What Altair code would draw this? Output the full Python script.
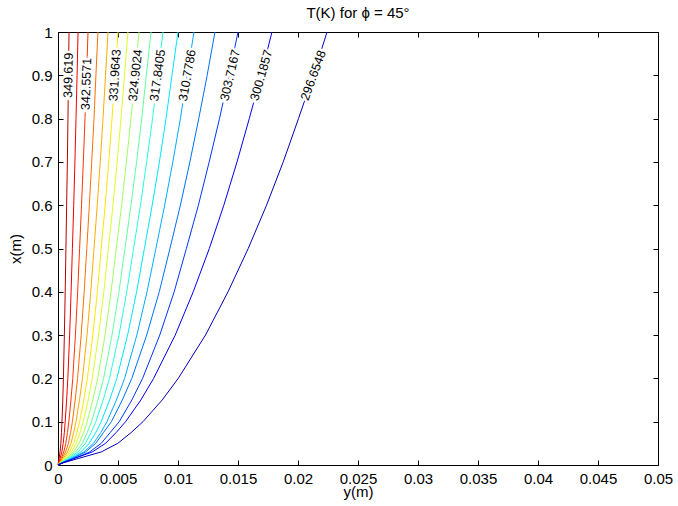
import altair as alt
import pandas as pd

# ---------------- data ----------------
# contour levels (K), innermost (hottest) first
levels = [349.619, 346.0881, 342.5571, 339.0262, 335.4952, 331.9643, 328.4333, 324.9024,
          321.3714, 317.8405, 314.3095, 310.7786, 307.2476, 303.7167, 300.1857, 296.6548]

# x (m) positions along the plate (vertical axis) at which each contour was read
x_pts = [0, 0.005, 0.015, 0.03, 0.05, 0.075, 0.1, 0.15, 0.2, 0.3, 0.4, 0.5, 0.6, 0.7, 0.8, 0.9, 1.0]

# y (mm) of each contour at those x positions (horizontal axis)
c01 = [0, 0.03, 0.09, 0.17, 0.24, 0.29, 0.33, 0.40, 0.45, 0.53, 0.60, 0.66, 0.72, 0.78, 0.83, 0.87, 0.92]
c02 = [0, 0.05, 0.17, 0.32, 0.43, 0.53, 0.60, 0.72, 0.82, 0.97, 1.09, 1.20, 1.31, 1.41, 1.50, 1.59, 1.67]
c03 = [0, 0.08, 0.25, 0.48, 0.65, 0.79, 0.90, 1.08, 1.23, 1.45, 1.64, 1.80, 1.96, 2.11, 2.25, 2.38, 2.50]
c04 = [0, 0.10, 0.33, 0.63, 0.87, 1.05, 1.20, 1.43, 1.63, 1.93, 2.18, 2.40, 2.61, 2.81, 3.00, 3.16, 3.33]
c05 = [0, 0.13, 0.42, 0.79, 1.08, 1.31, 1.50, 1.79, 2.04, 2.42, 2.73, 3.00, 3.27, 3.52, 3.75, 3.96, 4.17]
c06 = [0, 0.15, 0.50, 0.95, 1.30, 1.58, 1.80, 2.15, 2.45, 2.90, 3.28, 3.60, 3.93, 4.23, 4.50, 4.75, 5.00]
c07 = [0, 0.17, 0.58, 1.11, 1.52, 1.84, 2.10, 2.51, 2.86, 3.38, 3.82, 4.20, 4.58, 4.93, 5.25, 5.54, 5.83]
c08 = [0, 0.20, 0.68, 1.28, 1.76, 2.13, 2.43, 2.90, 3.31, 3.92, 4.42, 4.86, 5.30, 5.70, 6.08, 6.41, 6.75]
c09 = [0, 0.23, 0.78, 1.47, 2.02, 2.44, 2.79, 3.33, 3.80, 4.50, 5.08, 5.58, 6.08, 6.55, 6.98, 7.36, 7.75]
c10 = [0, 0.26, 0.88, 1.66, 2.28, 2.76, 3.15, 3.76, 4.29, 5.08, 5.73, 6.30, 6.87, 7.39, 7.88, 8.31, 8.75]
c11 = [0, 0.30, 1.00, 1.90, 2.60, 3.15, 3.60, 4.30, 4.90, 5.80, 6.55, 7.20, 7.85, 8.45, 9.00, 9.50, 10.00]
c12 = [0, 0.34, 1.13, 2.15, 2.95, 3.57, 4.08, 4.87, 5.55, 6.57, 7.42, 8.16, 8.89, 9.57, 10.20, 10.76, 11.33]
c13 = [0, 0.33, 1.18, 2.29, 3.14, 3.79, 4.45, 5.36, 6.15, 7.39, 8.44, 9.33, 10.20, 10.99, 11.73, 12.43, 13.08]
c14 = [0, 0.38, 1.35, 2.63, 3.60, 4.35, 5.10, 6.15, 7.05, 8.48, 9.68, 10.70, 11.70, 12.60, 13.46, 14.25, 15.00]
c15 = [0, 0.36, 1.34, 2.85, 3.96, 4.85, 5.63, 6.90, 7.97, 9.77, 11.27, 12.61, 13.82, 14.92, 15.94, 16.92, 17.83]
c16 = [0, 0.45, 1.68, 3.59, 4.98, 6.10, 7.08, 8.68, 10.02, 12.29, 14.17, 15.85, 17.38, 18.77, 20.04, 21.28, 22.42]
contours = [c01, c02, c03, c04, c05, c06, c07, c08, c09, c10, c11, c12, c13, c14, c15, c16]

# contour labels (text, x position along plate, y position in mm)
label_text = ["349.619", "342.5571", "331.9643", "324.9024", "317.8405",
              "310.7786", "303.7167", "300.1857", "296.6548"]
label_x = [0.90, 0.88, 0.90, 0.90, 0.90, 0.90, 0.90, 0.90, 0.90]
label_y_mm = [0.87, 2.36, 4.75, 6.45, 8.31, 10.78, 14.35, 16.95, 21.28]

# tick values
x_ticks = [0, 0.005, 0.01, 0.015, 0.02, 0.025, 0.03, 0.035, 0.04, 0.045, 0.05]
y_ticks = [0, 0.1, 0.2, 0.3, 0.4, 0.5, 0.6, 0.7, 0.8, 0.9, 1.0]

# ---------------- styles ----------------
jet_colors = ["#bb0000", "#f70000", "#ff3500", "#ff7000", "#ffac00", "#ffe800",
              "#d9ff25", "#9eff61", "#61ff9e", "#25ffd9", "#00e8ff", "#00acff",
              "#0070ff", "#0035ff", "#0000f7", "#0000bb"]
label_angles = [271, 272, 274, 276, 278, 280, 283, 286, 290]
FONT = "Liberation Sans"

# ---------------- tables ----------------
rows = []
for lev, ys in zip(levels, contours):
    for i, (xv, yv) in enumerate(zip(x_pts, ys)):
        rows.append({"level": f"{lev:.4f}", "i": i, "xm": xv, "ym": yv / 1000.0})
df = pd.DataFrame(rows)
level_names = [f"{lev:.4f}" for lev in levels]

lab = pd.DataFrame({
    "label": label_text,
    "xm": label_x,
    "ym": [v / 1000.0 for v in label_y_mm],
    "angle": label_angles,
})

xscale = alt.Scale(domain=[0, 0.05], nice=False, zero=False)
yscale = alt.Scale(domain=[0, 1], nice=False, zero=False)

W, H = 600, 433

# main layer: lines + labelled axes (no ticks)
x_main = alt.Axis(orient="bottom", values=x_ticks, format="~g", title="y(m)",
                  tickSize=0, ticks=False, labelPadding=6, domain=False, grid=False,
                  labelFlush=False, labelOverlap=False,
                  labelFont=FONT, labelFontSize=15, labelColor="black",
                  titleFont=FONT, titleFontSize=15, titleFontWeight="normal", titleColor="black",
                  titleX=W / 2, titleY=19, titleBaseline="top", titleAlign="center")
y_main = alt.Axis(orient="left", values=y_ticks, format="~g", title="x(m)",
                  tickSize=0, ticks=False, labelPadding=6, domain=False, grid=False,
                  labelFlush=False, labelOverlap=False,
                  labelFont=FONT, labelFontSize=15, labelColor="black",
                  titleFont=FONT, titleFontSize=15, titleFontWeight="normal", titleColor="black",
                  titleX=-43, titleY=H / 2, titleBaseline="middle", titleAlign="center",
                  titleAngle=270)

lines = alt.Chart(df).mark_line(strokeWidth=1).encode(
    x=alt.X("ym:Q", scale=xscale, axis=x_main),
    y=alt.Y("xm:Q", scale=yscale, axis=y_main),
    color=alt.Color("level:N", scale=alt.Scale(domain=level_names, range=jet_colors),
                    legend=None),
    order=alt.Order("i:Q"),
)

def tick_axis(orient, vals):
    return alt.Axis(orient=orient, values=vals, labels=False, title="", ticks=True,
                    tickSize=5, offset=-5, domain=False, grid=False,
                    tickColor="black", tickWidth=1)

halo = alt.Chart(lab).mark_text(font=FONT, fontSize=12.5, color="white", stroke="white",
                                strokeWidth=5, align="center", baseline="middle").encode(
    x=alt.X("ym:Q", scale=xscale, axis=tick_axis("bottom", x_ticks)),
    y=alt.Y("xm:Q", scale=yscale, axis=tick_axis("left", y_ticks)),
    angle=alt.Angle("angle:Q", scale=None),
    text="label:N",
)

texts = alt.Chart(lab).mark_text(font=FONT, fontSize=12.5, color="black",
                                 align="center", baseline="middle").encode(
    x=alt.X("ym:Q", scale=xscale, axis=tick_axis("top", x_ticks)),
    y=alt.Y("xm:Q", scale=yscale, axis=tick_axis("right", y_ticks)),
    angle=alt.Angle("angle:Q", scale=None),
    text="label:N",
)

chart = alt.layer(lines, halo, texts).resolve_axis(
    x="independent", y="independent"
).properties(
    width=W, height=H,
    background="white",
    padding={"left": 58, "top": 32, "right": 20, "bottom": 41},
    autosize=alt.AutoSizeParams(type="none"),
    title=alt.TitleParams("T(K) for ϕ = 45°", anchor="middle", font=FONT, fontSize=15,
                          fontWeight="normal", offset=4, color="black"),
).configure_view(
    stroke="black", strokeWidth=1
)

chart.save("out.html", embed_options={"renderer": "svg", "actions": False})
